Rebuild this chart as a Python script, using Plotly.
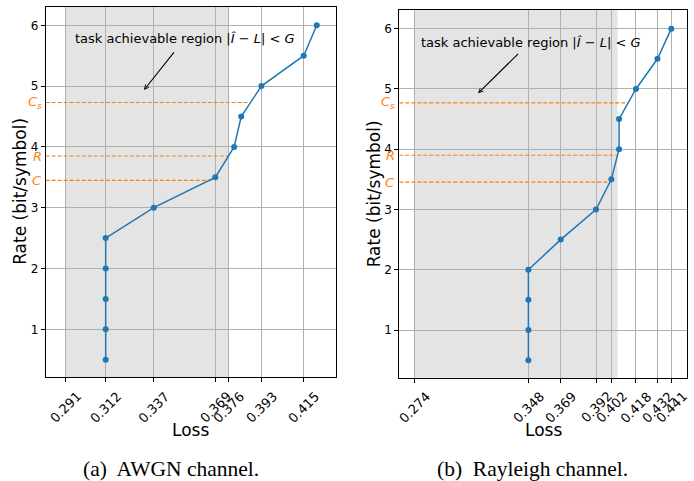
import plotly.graph_objects as go

W, H = 694, 481

# ---------------- data ----------------
rates = [0.5, 1.0, 1.5, 2.0, 2.5, 3.0, 3.5, 4.0, 4.5, 5.0, 5.5, 6.0]

awgn_loss = [0.312, 0.312, 0.312, 0.312, 0.312, 0.337, 0.369, 0.3788, 0.3825, 0.393, 0.415, 0.4218]
awgn_ticks = [0.291, 0.312, 0.337, 0.369, 0.376, 0.393, 0.415]
awgn_tick_labels = ["0.291", "0.312", "0.337", "0.369", "0.376", "0.393", "0.415"]
awgn_region = [0.291, 0.376]
awgn_ref_names = ["<i>C</i><sub><i>s</i></sub>", "<i>R</i>", "<i>C</i>"]
awgn_ref_rates = [4.73, 3.85, 3.45]
awgn_ref_loss = [0.387, 0.376, 0.368]

ray_loss = [0.348, 0.348, 0.348, 0.348, 0.369, 0.392, 0.402, 0.407, 0.407, 0.418, 0.432, 0.441]
ray_ticks = [0.274, 0.348, 0.369, 0.392, 0.402, 0.418, 0.432, 0.441]
ray_tick_labels = ["0.274", "0.348", "0.369", "0.392", "0.402", "0.418", "0.432", "0.441"]
ray_region = [0.274, 0.406]
ray_ref_names = ["<i>C</i><sub><i>s</i></sub>", "<i>R</i>", "<i>C</i>"]
ray_ref_rates = [4.77, 3.90, 3.455]
ray_ref_loss = [0.413, 0.4055, 0.4024]

y_ticks = [1, 2, 3, 4, 5, 6]
y_tick_labels = ["1", "2", "3", "4", "5", "6"]

region_text = "task achievable region |<i>Î</i> − <i>L</i>| &lt; <i>G</i>"
captions = ["(a)  AWGN channel.", "(b)  Rayleigh channel."]

# ---------------- styling ----------------
BLUE = "#1f77b4"
ORANGE = "#ff7f0e"
GRID = "#b0b0b0"
SHADE = "#e4e4e4"
SANS = "DejaVu Sans"
SERIF = "Liberation Serif"

panels = [
    dict(loss=awgn_loss, ticks=awgn_ticks, labels=awgn_tick_labels, region=awgn_region,
         ref_names=awgn_ref_names, ref_rates=awgn_ref_rates, ref_loss=awgn_ref_loss,
         xdom=[45.7 / W, 336 / W], ydom=[(H - 377) / H, (H - 6.7) / H],
         xrange=[0.2808, 0.4318], yrange=[0.2155, 6.306],
         text_xy=(0.3533, 5.786), arrow_tail=(0.3481, 5.58), arrow_head=(0.3319, 4.934),
         ylab_x=20, cap_x=171.3),
    dict(loss=ray_loss, ticks=ray_ticks, labels=ray_tick_labels, region=ray_region,
         ref_names=ray_ref_names, ref_rates=ray_ref_rates, ref_loss=ray_ref_loss,
         xdom=[399.3 / W, 687 / W], ydom=[(H - 377.7) / H, (H - 10) / H],
         xrange=[0.26398, 0.45122], yrange=[0.2084, 6.31],
         text_xy=(0.3499, 5.774), arrow_tail=(0.3423, 5.606), arrow_head=(0.3152, 4.928),
         ylab_x=373.5, cap_x=532),
]

fig = go.Figure()
shapes = []
annotations = []
layout_axes = {}

for i, p in enumerate(panels):
    sfx = "" if i == 0 else str(i + 1)
    xa, ya = "x" + sfx, "y" + sfx

    # shaded region
    shapes.append(dict(type="rect", xref=xa, yref=ya + " domain",
                       x0=p["region"][0], x1=p["region"][1], y0=0, y1=1,
                       fillcolor=SHADE, line=dict(width=0), layer="below"))

    # orange reference lines
    for name, r, l in zip(p["ref_names"], p["ref_rates"], p["ref_loss"]):
        fig.add_trace(go.Scatter(x=[p["xrange"][0], l], y=[r, r], mode="lines",
                                 line=dict(color=ORANGE, width=1.2, dash="4px,2px"),
                                 xaxis=xa, yaxis=ya, showlegend=False, hoverinfo="skip"))
        annotations.append(dict(xref=xa + " domain", yref=ya, x=0, y=r, xanchor="right",
                                yanchor="middle", xshift=-2, text=name, showarrow=False,
                                font=dict(family=SANS, size=13, color=ORANGE)))

    # main curve
    fig.add_trace(go.Scatter(x=p["loss"], y=rates, mode="lines+markers",
                             line=dict(color=BLUE, width=1.5),
                             marker=dict(color=BLUE, size=6),
                             xaxis=xa, yaxis=ya, showlegend=False))

    # rotated x tick labels (centred under each tick, matplotlib style)
    for tv, tl in zip(p["ticks"], p["labels"]):
        annotations.append(dict(xref=xa, yref="paper", x=tv, y=(H - 386) / H,
                                text=tl, textangle=-45, showarrow=False,
                                xanchor="center", yanchor="top",
                                font=dict(family=SANS, size=13, color="black")))

    # region annotation
    annotations.append(dict(xref=xa, yref=ya, x=p["text_xy"][0], y=p["text_xy"][1],
                            text=region_text, showarrow=False, xanchor="center", yanchor="middle",
                            font=dict(family=SANS, size=13, color="black")))
    annotations.append(dict(xref=xa, yref=ya, axref=xa, ayref=ya,
                            x=p["arrow_head"][0], y=p["arrow_head"][1],
                            ax=p["arrow_tail"][0], ay=p["arrow_tail"][1],
                            text="", showarrow=True, arrowhead=5, arrowsize=0.8,
                            arrowwidth=1.1, arrowcolor="black"))

    # axis titles
    annotations.append(dict(xref="paper", yref="paper",
                            x=(p["xdom"][0] + p["xdom"][1]) / 2, y=(H - 429.5) / H,
                            text="Loss", showarrow=False, xanchor="center", yanchor="middle",
                            font=dict(family=SANS, size=17, color="black")))
    annotations.append(dict(xref="paper", yref="paper",
                            x=p["ylab_x"] / W, y=(p["ydom"][0] + p["ydom"][1]) / 2,
                            text="Rate (bit/symbol)", textangle=-90, showarrow=False,
                            xanchor="center", yanchor="middle",
                            font=dict(family=SANS, size=17, color="black")))
    # caption
    annotations.append(dict(xref="paper", yref="paper", x=p["cap_x"] / W, y=(H - 469) / H,
                            text=captions[i], showarrow=False, xanchor="center", yanchor="middle",
                            font=dict(family=SERIF, size=21.5, color="black")))

    axis_common = dict(showline=True, mirror=True, linecolor="black", linewidth=1,
                       ticks="outside", ticklen=4, tickwidth=1, tickcolor="black",
                       showgrid=True, gridcolor=GRID, gridwidth=0.8, zeroline=False,
                       tickfont=dict(family=SANS, size=12, color="black"))
    layout_axes["xaxis" + sfx] = dict(axis_common, domain=p["xdom"], range=p["xrange"],
                                      anchor=ya, tickmode="array", tickvals=p["ticks"],
                                      showticklabels=False)
    layout_axes["yaxis" + sfx] = dict(axis_common, domain=p["ydom"], range=p["yrange"],
                                      anchor=xa, tickmode="array", tickvals=y_ticks,
                                      ticktext=y_tick_labels)

fig.update_layout(width=W, height=H, margin=dict(l=0, r=0, t=0, b=0),
                  paper_bgcolor="white", plot_bgcolor="white",
                  shapes=shapes, annotations=annotations, showlegend=False, **layout_axes)

fig.write_html("out.html", config={"displayModeBar": False},
               post_script="document.body.style.margin='0';document.body.style.overflow='hidden';")
